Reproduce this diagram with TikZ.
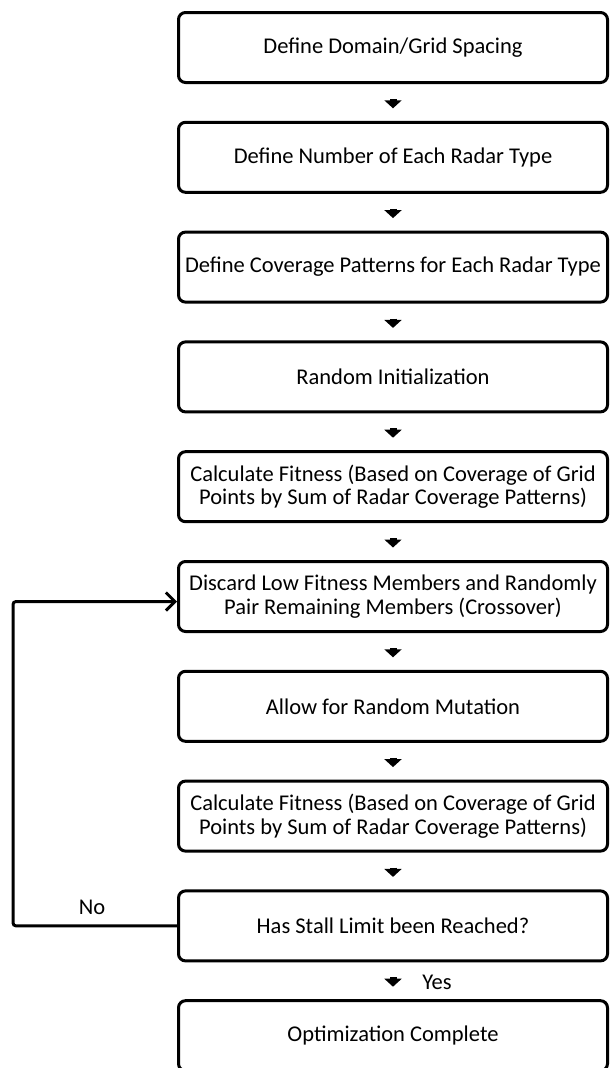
\documentclass[tikz,border=0pt]{standalone}
\usepackage{fontspec}
\setmainfont{Carlito}
\usetikzlibrary{arrows.meta}
\begin{document}
\begin{tikzpicture}[x=1pt,y=-1pt,
  box/.style={draw, line width=3pt, rounded corners=7pt, minimum width=429pt,
    minimum height=70pt, align=center, inner sep=0pt, fill=white,
    font=\fontsize{22.5}{23.5}\selectfont},
  flow/.style={-{Triangle[width=17pt,length=8pt]}, line width=7pt,
    shorten <=15pt, shorten >=12.5pt},
  back/.style={-{Straight Barb[length=9pt,width=18pt,line width=3pt]}, line width=3pt,
    rounded corners=3pt},
  lab/.style={font=\fontsize{22.5}{23.5}\selectfont, inner sep=0pt}
]
\useasboundingbox (0,0) rectangle (610,1068);
\node[box] (b1) at (393,47.5) {Define Domain/Grid Spacing};
\node[box] (b2) at (393,157.3) {Define Number of Each Radar Type};
\node[box] (b3) at (393,267.1) {Define Coverage Patterns for Each Radar Type};
\node[box] (b4) at (393,376.9) {Random Initialization};
\node[box] (b5) at (393,486.7) {Calculate Fitness (Based on Coverage of Grid\\Points by Sum of Radar Coverage Patterns)};
\node[box] (b6) at (393,596.5) {Discard Low Fitness Members and Randomly\\Pair Remaining Members (Crossover)};
\node[box] (b7) at (393,706.3) {Allow for Random Mutation};
\node[box] (b8) at (393,816.1) {Calculate Fitness (Based on Coverage of Grid\\Points by Sum of Radar Coverage Patterns)};
\node[box] (b9) at (393,925.9) {Has Stall Limit been Reached?};
\node[box] (b10) at (393,1035.7) {Optimization Complete};
\draw[flow] (b1) -- (b2);
\draw[flow] (b2) -- (b3);
\draw[flow] (b3) -- (b4);
\draw[flow] (b4) -- (b5);
\draw[flow] (b5) -- (b6);
\draw[flow] (b6) -- (b7);
\draw[flow] (b7) -- (b8);
\draw[flow] (b8) -- (b9);
\draw[flow] (b9) -- (b10);
\coordinate (c1) at (13,925.9);
\coordinate (c2) at (13,601.5);
\draw[back] (b9.west) -- (c1) -- (c2) -- (b6.west |- c2);
\node[lab] (no) at (92,907) {No};
\node[lab] (yes) at (437,982) {Yes};
\end{tikzpicture}
\end{document}
